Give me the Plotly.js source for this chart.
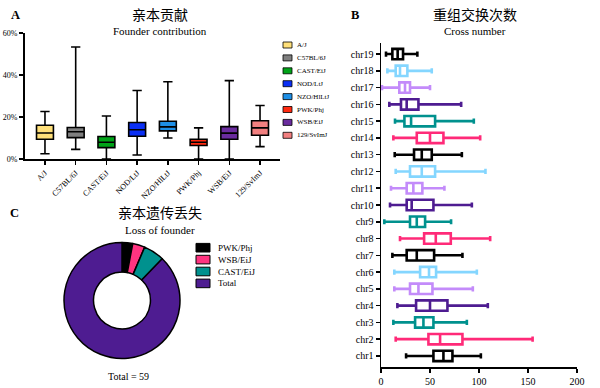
<!DOCTYPE html>
<html><head><meta charset="utf-8">
<script src="https://cdn.plot.ly/plotly-3.0.1.min.js"></script>
<style>html,body{margin:0;padding:0;background:#fff}#chart{width:600px;height:388px}</style>
</head><body><div id="chart"></div>
<script>
// Panel A: founder contribution (%)
const founders = ['A/J','C57BL/6J','CAST/EiJ','NOD/LtJ','NZO/HlLtJ','PWK/Phj','WSB/EiJ','129/SvImJ'];
const aLow  = [2.5, 4.6, 0, 1.9, 10.0, 0, 0, 5.9];
const aQ1   = [9.4, 10.2, 5.4, 10.8, 13.4, 6.4, 9.4, 11.3];
const aMed  = [12.4, 13.0, 8.0, 13.9, 15.3, 8.0, 12.3, 14.8];
const aQ3   = [16.1, 15.0, 10.7, 17.4, 18.0, 9.4, 15.4, 18.2];
const aHigh = [22.6, 53.3, 20.5, 32.6, 36.8, 14.8, 37.3, 25.5];
const aTicks = [0, 20, 40, 60];

// Panel B: cross number per chromosome (chr1..chr19)
const chroms = ['chr1','chr2','chr3','chr4','chr5','chr6','chr7','chr8','chr9','chr10','chr11','chr12','chr13','chr14','chr15','chr16','chr17','chr18','chr19'];
const bLow  = [25.6,15.0,12.6,16.7,13.6,13.6,11.6,19.4,3.4,9.2,10.2,15.0,14.0,12.6,14.3,8.5,1.0,6.5,5.1];
const bQ1   = [53.5,48.4,34.8,35.8,29.6,39.9,26.2,44.0,29.6,26.2,26.2,29.6,33.7,36.5,23.9,20.4,18.7,15.0,11.6];
const bMed  = [63.7,60.3,43.3,50.0,38.2,49.0,36.5,55.9,36.5,31.3,33.0,41.6,41.6,50.0,30.7,26.2,24.5,19.4,17.0];
const bQ3   = [72.9,83.1,53.5,67.8,52.5,56.2,54.2,71.2,45.0,53.5,42.2,55.2,51.8,63.7,55.2,38.2,29.6,26.9,22.5];
const bHigh = [101.9,154.7,87.6,109.0,93.7,97.8,83.1,111.4,71.5,92.7,64.7,106.6,82.5,101.2,94.7,81.8,50.0,51.8,37.1];
const bTicks = [0, 50, 100, 150, 200];

// Panel C: loss of founder
const lossLabels = ['PWK/Phj','WSB/EiJ','CAST/EiJ','Total'];
const lossValues = [2, 2.3, 3.9, 59];
const lossTotal = 59;

const founderColors = ['#FFE07A','#7F7F7F','#00A318','#0A2FF5','#1E8FE6','#FF2A10','#6A2C9E','#F28080'];
const chrPalette = ['#000000','#FF2A78','#00918E','#4E1C91','#C38BFA','#84D6FF'];
const lossColors = ['#000000','#FF3480','#00918E','#4E1C91'];

const SERIF = 'Liberation Serif, Times New Roman, serif';
const CJK = 'Noto Sans CJK SC, sans-serif';
const px = v => v/600, py = v => 1 - v/388;

const traces = [];
founders.forEach((f,i) => {
  traces.push({type:'box', x:[f], q1:[aQ1[i]], median:[aMed[i]], q3:[aQ3[i]],
    lowerfence:[aLow[i]], upperfence:[aHigh[i]], boxpoints:false, width:0.55, whiskerwidth:0.55,
    fillcolor:founderColors[i], line:{color:'#000', width:1.6},
    xaxis:'x', yaxis:'y', showlegend:false, hoverinfo:'skip'});
});
chroms.forEach((c,i) => {
  const col = chrPalette[i % 6];
  traces.push({type:'box', orientation:'h', y:[c], q1:[bQ1[i]], median:[bMed[i]], q3:[bQ3[i]],
    lowerfence:[bLow[i]], upperfence:[bHigh[i]], boxpoints:false, width:0.62, whiskerwidth:0.5,
    fillcolor:'#fff', line:{color:col, width:2.6},
    xaxis:'x2', yaxis:'y2', showlegend:false, hoverinfo:'skip'});
});
traces.push({type:'pie', labels:lossLabels, values:lossValues, sort:false, direction:'clockwise',
  rotation:0, hole:0.49, textinfo:'none', hoverinfo:'skip', showlegend:false,
  marker:{colors:lossColors, line:{color:'#000', width:1.5}},
  domain:{x:[px(64), px(180)], y:[py(359), py(242)]}});

const shapes = [], annotations = [];
founders.forEach((f,i) => {
  const yc = 45 + 12.9*i;
  shapes.push({type:'rect', xref:'paper', yref:'paper', x0:px(283), x1:px(292), y0:py(yc+3), y1:py(yc-3),
    fillcolor:founderColors[i], line:{color:'#000', width:0.8}});
  annotations.push({xref:'paper', yref:'paper', x:px(295), y:py(yc), xanchor:'left', yanchor:'middle',
    text:f, showarrow:false, font:{family:SERIF, size:7, color:'#000'}});
});
lossLabels.forEach((l,i) => {
  const yc = 247.7 + 11.9*i;
  shapes.push({type:'rect', xref:'paper', yref:'paper', x0:px(196), x1:px(210), y0:py(yc+4.3), y1:py(yc-4.3),
    fillcolor:lossColors[i], line:{color:'#000', width:1}});
  annotations.push({xref:'paper', yref:'paper', x:px(216), y:py(yc), xanchor:'left', yanchor:'middle',
    text:l, showarrow:false, font:{family:SERIF, size:9, color:'#000'}});
});
const txt = (x,y,t,font,size,bold) => annotations.push({xref:'paper', yref:'paper', x:px(x), y:py(y),
  xanchor:'center', yanchor:'middle', text:bold?'<b>'+t+'</b>':t, showarrow:false, font:{family:font, size:size, color:'#000'}});
txt(160, 14, '亲本贡献', CJK, 14);
txt(160, 31, 'Founder contribution', SERIF, 11);
txt(475, 14, '重组交换次数', CJK, 14);
txt(475, 31, 'Cross number', SERIF, 11);
txt(160, 212, '亲本遗传丢失', CJK, 14);
txt(160, 230, 'Loss of founder', SERIF, 11);
txt(128, 376.5, 'Total = ' + lossTotal, SERIF, 10);
txt(15, 15, 'A', SERIF, 12.5, true);
txt(355, 15, 'B', SERIF, 12.5, true);
txt(14, 213, 'C', SERIF, 12.5, true);

const axCommon = {showgrid:false, zeroline:false, showline:true, linecolor:'#000', ticks:'outside',
  tickcolor:'#000', ticklen:4, tickwidth:1.5, fixedrange:true};
const layout = {
  width:600, height:388, margin:{l:0,r:0,t:0,b:0}, paper_bgcolor:'#fff', plot_bgcolor:'rgba(0,0,0,0)',
  boxmode:'overlay', showlegend:false,
  xaxis: Object.assign({}, axCommon, {domain:[px(25), px(280)], anchor:'y', type:'category',
    categoryorder:'array', categoryarray:founders, range:[-0.65, 7.65], linewidth:2, tickangle:-45,
    tickfont:{family:SERIF, size:8, color:'#000'}}),
  yaxis: Object.assign({}, axCommon, {domain:[py(159), py(33)], anchor:'x', range:[0, 60],
    tickvals:aTicks, ticktext:aTicks.map(v=>v+'%'), linewidth:2, tickfont:{family:SERIF, size:8, color:'#000'}}),
  xaxis2: Object.assign({}, axCommon, {domain:[px(381), px(577)], anchor:'y2', range:[0, 200],
    tickvals:bTicks, linewidth:1.5, tickfont:{family:SERIF, size:10, color:'#000'}}),
  yaxis2: Object.assign({}, axCommon, {domain:[py(367), py(43)], anchor:'x2', type:'category',
    categoryorder:'array', categoryarray:chroms, range:[-0.66, 18.66], linewidth:1.5,
    tickfont:{family:SERIF, size:10, color:'#000'}}),
  shapes: shapes, annotations: annotations
};
Plotly.newPlot('chart', traces, layout, {staticPlot:true, displayModeBar:false});
</script></body></html>
